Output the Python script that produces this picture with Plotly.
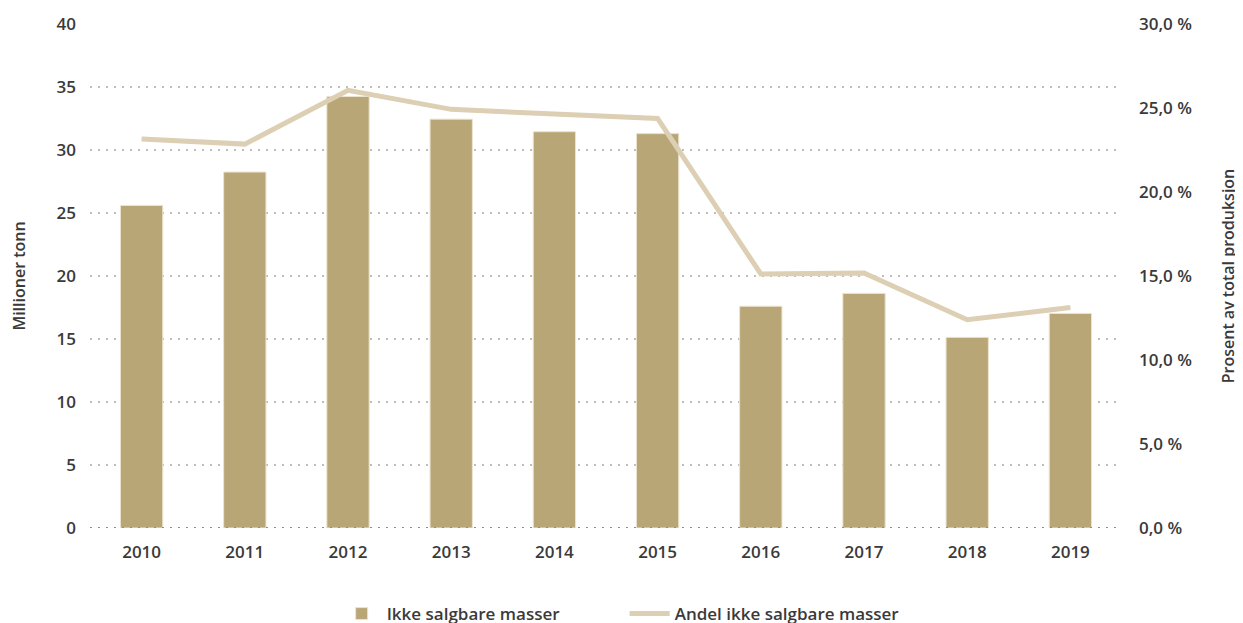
import plotly.graph_objects as go

years = ["2010", "2011", "2012", "2013", "2014", "2015", "2016", "2017", "2018", "2019"]
masses = [25.6, 28.25, 34.25, 32.45, 31.45, 31.3, 17.6, 18.62, 15.13, 17.03]
share_pct = [23.15, 22.85, 26.05, 24.92, 24.64, 24.38, 15.12, 15.18, 12.4, 13.12]

bar_name = "Ikke salgbare masser"
line_name = "Andel ikke salgbare masser"
left_title = "Millioner tonn"
right_title = "Prosent av total produksjon"

font_family = "Open Sans, Noto Sans, sans-serif"
text_color = "#3a3a3a"
tick_font = dict(size=17, color=text_color, weight=600)
title_font = dict(size=16, color=text_color, weight=600)

fig = go.Figure()
fig.add_trace(go.Bar(
    x=years, y=masses, name=bar_name,
    marker=dict(color="#b8a677", line=dict(color="#ece4d0", width=1)),
    width=0.41,
))
fig.add_trace(go.Scatter(
    x=years, y=share_pct, name=line_name, yaxis="y2", mode="lines",
    line=dict(color="#dccfb3", width=5),
))

# dotted baseline at zero
fig.add_shape(type="line", xref="paper", yref="y", x0=0, x1=1, y0=0, y1=0,
              line=dict(color="#9c8a72", width=2, dash="2px,6px"), layer="above")

fig.update_layout(
    width=1243, height=623,
    margin=dict(l=82, r=129, t=16, b=103, autoexpand=False),
    plot_bgcolor="white", paper_bgcolor="white",
    separators=", ",
    font=dict(family=font_family, size=17, color=text_color, weight=600),
    showlegend=True,
    legend=dict(orientation="h", x=0.239, xanchor="left", y=-0.135, yanchor="top",
                font=dict(size=17, color=text_color, weight=600),
                itemwidth=40, entrywidth=233, entrywidthmode="pixels"),
    xaxis=dict(
        type="category", showgrid=False, showline=False, ticks="",
        tickfont=tick_font, ticklabelstandoff=12,
    ),
    yaxis=dict(
        range=[0, 40], dtick=5, showgrid=True, gridcolor="#c2bdb5", griddash="2px,6px",
        gridwidth=2, zeroline=False, showline=False, ticks="",
        tickfont=tick_font, ticklabelstandoff=13,
        title=dict(text=left_title, standoff=45, font=title_font),
    ),
    yaxis2=dict(
        range=[0, 30], dtick=5, overlaying="y", side="right",
        showgrid=False, zeroline=False, showline=False, ticks="",
        tickformat=".1f", ticksuffix=" %",
        tickfont=tick_font, ticklabelstandoff=16,
        title=dict(text=right_title, standoff=31, font=title_font),
    ),
)

fig.write_html("out.html")
